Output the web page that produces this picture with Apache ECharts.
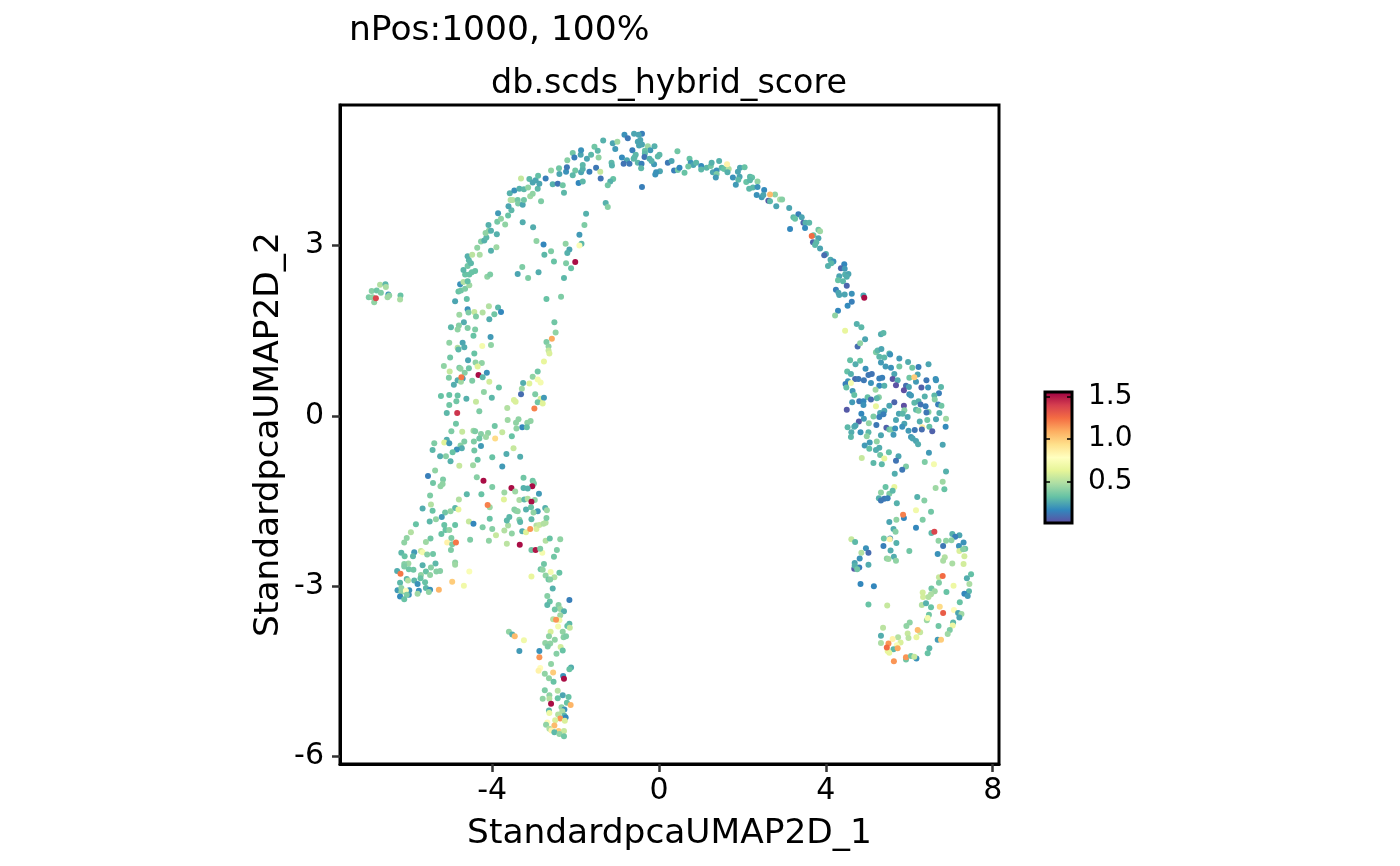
<!DOCTYPE html>
<html><head><meta charset="utf-8">
<script src="https://cdn.jsdelivr.net/npm/echarts@6/dist/echarts.min.js"></script>
<style>html,body{margin:0;background:#fff}#c{width:1400px;height:866px}</style></head>
<body><div id="c"></div>
<script>
// Each point: [UMAP_1, UMAP_2, score]
const patch=[[-6.96,2.09,.38],[-6.89,2.20,.4],[-6.69,2.31,.5],[-6.56,2.32,.3],[-6.55,2.27,.48],[-6.77,2.21,.35],[-6.67,2.17,.38],[-6.49,2.14,.2],[-6.47,2.12,.42],[-6.51,2.09,.45],[-6.20,2.12,.33],[-6.21,2.05,.48],[-6.83,2.00,.42],[-6.87,2.09,.42],[-6.79,2.07,1.37]];
const upperLeft=[[-4.89,2.02,.25],[-4.61,2.06,.32],[-4.81,2.19,.33],[-4.75,2.21,.35],[-4.65,2.24,.38],[-4.55,2.30,.45],[-4.77,2.32,.2],[-4.69,2.36,.5],[-4.59,2.37,.32],[-4.12,2.45,.42],[-4.05,2.49,.38],[-4.65,2.49,.33],[-4.55,2.49,.33],[-4.41,2.55,.33],[-4.49,2.53,.33],[-4.69,2.57,.3],[-4.59,2.64,.35],[-4.51,2.69,.3],[-4.56,2.74,.3],[-4.59,2.81,.28],[-4.48,2.84,.52],[-4.30,2.84,.48],[-4.03,2.91,.28],[-3.90,2.97,.45],[-4.36,2.96,.42],[-4.27,3.07,.4],[-4.19,3.09,.28],[-4.14,3.14,.3],[-4.16,3.22,.42],[-4.08,3.26,.42],[-4.03,3.26,.28],[-4.09,3.36,.28],[-3.89,3.20,.28],[-3.88,3.42,.36],[-3.79,3.47,.42],[-3.69,3.37,.42],[-3.86,3.57,.22],[-3.62,3.53,.33],[-3.54,3.62,.3],[-3.61,3.69,.25],[-3.56,3.80,.5],[-3.51,3.80,.5],[-3.39,3.80,.35],[-3.38,3.74,.38],[-3.27,3.72,.25],[-3.24,3.80,.35],[-3.09,3.87,.45],[-3.03,3.91,.42],[-2.83,3.78,.38],[-3.58,3.92,.28],[-3.47,3.97,.2],[-3.35,4.00,.28],[-3.24,3.99,.3],[-3.14,4.02,.42],[-2.91,4.00,.3],[-3.31,4.18,.55],[-3.11,4.17,.3],[-3.03,4.11,.25],[-2.96,4.15,.25],[-2.87,4.09,.25],[-2.90,4.23,.32],[-2.59,4.32,.42],[-2.55,4.08,.28],[-2.43,4.09,.12],[-2.31,4.06,.35],[-2.28,3.93,.3],[-2.72,4.18,.15],[-2.39,4.26,.25],[-2.40,4.36,.35],[-2.23,4.30,.2],[-2.21,4.38,.13],[-2.01,4.32,.35],[-2.07,4.24,.3],[-1.87,4.29,.25],[-1.83,4.35,.28],[-1.83,4.42,.3],[-1.67,4.30,.15],[-1.51,4.37,.13],[-1.41,4.30,.55],[-1.40,4.18,.12],[-1.93,4.10,.17],[-1.83,4.13,.3],[-2.20,4.50,.4],[-2.07,4.63,.35],[-2.03,4.55,.15],[-1.88,4.60,.25],[-1.87,4.68,.2],[-1.73,4.53,.25],[-1.63,4.60,.3],[-1.55,4.74,.35],[-1.47,4.67,.3],[-1.45,4.55,.42],[-1.34,4.85,.28],[-1.11,4.80,.25],[-1.00,4.83,.45],[-1.05,4.70,.22],[-1.14,4.46,.3],[-1.13,4.41,.28],[-1.10,4.17,.33],[-1.17,4.13,.28],[-1.23,4.06,.35],[-1.28,3.75,.28],[-1.23,3.68,.4],[-1.75,3.56,.28],[-1.79,3.36,.38],[-1.91,3.19,.22],[-1.86,3.03,.3],[-1.91,3.00,.75],[-2.24,3.03,.42],[-2.15,2.93,.25],[-2.20,2.87,.28],[-2.59,2.90,.38],[-2.77,3.02,.17],[-2.94,3.08,.42],[-2.75,2.84,.3],[-2.52,2.72,.33],[-2.23,2.69,.38],[-2.11,2.60,.33],[-2.01,2.71,1.52],[-2.28,2.43,.3],[-2.89,2.53,.27],[-3.14,2.43,.38],[-3.28,2.62,.38],[-3.39,2.50,.25],[-3.02,3.32,.27],[-3.27,3.41,.27],[-2.35,2.10,.38],[-2.70,2.06,.33],[-2.51,1.65,.35],[-2.48,1.47,.42],[-2.57,1.36,1.1]];
const crown=[[-.83,4.95,.2],[-.75,4.89,.13],[-.60,4.97,.25],[-.41,4.97,.15],[-.49,4.95,.25],[-.51,4.83,.25],[-.45,4.86,.25],[-.48,4.76,.25],[-.41,4.78,.25],[-.27,4.75,.45],[-.11,4.75,.28],[-.21,4.68,.22],[-.34,4.67,.33],[-.64,4.68,.15],[-.34,4.62,.3],[-.56,4.60,.3],[-.59,4.55,.3],[-.89,4.55,.18],[-.77,4.50,.25],[-.61,4.53,.3],[-.35,4.56,.12],[-.23,4.53,.28],[.01,4.60,.3],[-.03,4.57,.3],[-.51,4.46,.3],[-.42,4.44,.15],[-.85,4.44,.12],[-.71,4.44,.13],[-.43,4.36,.3],[-.12,4.43,.22],[-.18,4.49,.28],[.21,4.46,.13],[.02,4.31,.25],[-.07,4.29,.2],[-.09,4.25,.2],[-.41,4.03,.15]];
const rightArc=[[.44,4.66,.35],[.30,4.49,.25],[.36,4.32,.15],[.45,4.33,.35],[.49,4.37,.17],[.61,4.28,.33],[.73,4.53,.33],[.76,4.46,.2],[.82,4.42,.25],[.89,4.46,.3],[.70,4.39,.35],[1.01,4.40,.18],[1.01,4.34,.3],[1.14,4.37,.3],[1.24,4.40,.35],[1.26,4.46,.28],[1.44,4.49,.28],[1.29,4.29,.25],[1.38,4.32,.2],[1.38,4.26,.38],[1.36,4.20,.22],[1.50,4.37,.3],[1.56,4.35,.33],[1.67,4.35,.5],[1.64,4.29,.28],[1.63,4.43,.85],[1.77,4.20,.2],[1.89,4.30,.25],[1.94,4.37,.25],[2.05,4.38,.33],[1.93,4.21,.25],[1.90,4.16,.3],[1.84,4.07,.22],[2.09,4.12,.33],[2.18,4.21,.3],[2.23,4.20,.32],[2.18,4.15,.3],[2.36,4.13,.42],[2.16,4.00,.3],[2.25,4.02,.3],[2.36,4.03,.2],[2.52,3.98,.18],[2.34,3.89,.2],[2.46,3.85,.22],[2.50,3.89,.25],[2.78,3.90,.42],[2.66,3.90,1.05],[2.62,3.79,.05],[2.66,3.78,.3],[2.90,3.81,.48],[2.95,3.81,.4],[2.81,3.69,.25],[3.12,3.66,.25],[3.34,3.55,.15],[3.22,3.50,.3],[3.26,3.47,.33],[3.42,3.50,.25],[3.46,3.40,.08],[3.51,3.40,.28],[3.60,3.40,.3],[3.50,3.31,.18],[3.14,3.29,.17],[3.82,3.28,.35],[3.86,3.25,.45],[3.70,3.18,.33],[3.66,3.17,1.25],[3.82,3.13,.25],[3.69,3.06,.08],[3.77,3.06,.3],[3.74,3.01,.3],[3.86,2.95,.25],[4.00,2.85,.27],[3.96,2.83,.1],[4.11,2.75,.27],[4.18,2.72,.2],[4.13,2.69,.3],[4.05,2.64,.28],[4.44,2.67,.17],[4.36,2.60,.08],[4.45,2.59,.22],[4.46,2.49,.28],[4.54,2.50,.25],[4.50,2.45,.27],[4.32,2.46,.25],[4.29,2.39,.33],[4.41,2.37,.3],[4.50,2.29,.08],[4.24,2.22,.15],[4.30,2.17,.25],[4.32,2.13,.25],[4.45,2.14,.25],[4.62,2.15,.2],[4.90,2.12,.25],[4.92,2.08,1.52],[4.62,2.01,.15],[4.52,1.94,.18],[4.29,1.85,.17],[4.22,1.77,.42],[4.74,1.62,.28],[4.85,1.56,.3],[4.46,1.50,.65],[4.94,1.35,.25],[5.32,1.44,.27],[5.38,1.46,.3]];
const rightBlob=[[4.76,1.22,.1],[4.82,1.28,.42],[5.20,1.12,.38],[5.24,1.15,.3],[5.33,1.18,.25],[5.28,1.04,.3],[5.40,1.03,.3],[5.52,1.10,.3],[5.54,1.08,.2],[5.32,.94,.22],[5.76,1.01,.22],[5.97,.95,.27],[4.58,.98,.32],[4.71,.91,.27],[4.82,.97,.33],[4.95,.83,.2],[5.43,.87,.22],[5.56,.85,.2],[5.76,.87,.35],[6.07,.85,.35],[6.22,.86,.15],[6.46,.91,.25],[4.51,.78,.32],[4.60,.74,.28],[5.02,.72,.13],[5.10,.74,.12],[5.64,.74,.25],[6.20,.73,.25],[4.70,.65,.1],[4.78,.65,.13],[4.91,.63,.13],[5.28,.66,.15],[5.35,.67,.15],[5.60,.65,.03],[5.72,.63,.27],[6.00,.67,.35],[6.16,.60,.22],[6.12,.68,1.0],[6.41,.63,.13],[6.63,.65,.2],[6.64,.63,.2],[4.53,.61,.2],[4.47,.56,.15],[4.60,.58,.72],[5.08,.58,.2],[5.68,.54,.03],[5.28,.53,.17],[5.40,.53,.28],[5.92,.53,.1],[5.99,.51,.25],[5.87,.45,.02],[6.29,.50,.07],[6.45,.50,.2],[6.76,.51,.3],[4.49,.50,.32],[4.64,.44,.22],[4.68,.37,.32],[5.19,.46,.45],[6.00,.38,.2],[6.04,.36,.22],[6.71,.40,.15],[5.00,.33,.32],[5.27,.33,.4],[5.22,.31,.3],[5.08,.29,.1],[4.63,.24,.22],[4.80,.26,.13],[4.90,.26,.17],[4.90,.19,.2],[6.37,.34,.28],[6.60,.36,.3],[6.61,.29,.4],[5.64,.24,.08],[6.12,.23,.3],[6.22,.26,.28],[6.27,.20,.12],[6.39,.17,.15],[6.69,.20,.15],[6.77,.18,.35],[5.20,.17,.65],[5.52,.18,.25],[5.87,.18,.02],[4.50,.11,.05],[5.40,.09,.25],[5.30,.05,.25],[5.38,.03,.15],[5.88,.10,.4],[5.75,.04,.25],[5.84,.04,.3],[6.16,.11,.3],[6.22,.09,.38],[6.46,.07,.4],[6.41,.06,.13],[6.72,.05,.28],[4.85,.04,.17],[5.14,-.01,.38],[5.28,-.02,.15],[5.96,-.02,.25],[4.91,-.05,.22],[6.88,-.05,.45],[6.64,-.06,.25],[6.43,-.07,.35],[5.68,-.07,.25],[4.79,-.10,.05],[5.03,-.13,.42],[5.21,-.16,.13],[6.25,-.10,.27],[5.88,-.14,.25],[5.83,-.19,.2],[6.87,-.19,.18],[6.48,-.19,.32],[6.31,-.20,.88],[4.52,-.20,.3],[4.68,-.19,.27],[4.71,-.17,.25],[5.45,-.21,.07],[5.52,-.24,.33],[5.57,-.24,.38],[5.66,-.22,.2],[6.13,-.25,.13],[5.98,-.26,.22],[6.30,-.24,.1],[6.55,-.27,.07],[4.61,-.29,.27],[4.83,-.29,.2],[5.02,-.29,.3],[5.62,-.33,.22],[5.32,-.34,.25],[4.60,-.37,.3],[4.98,-.36,.42],[6.04,-.37,.22],[6.08,-.40,.25],[6.16,-.44,.25],[6.21,-.50,.27],[5.22,-.45,.42],[5.05,-.47,.22],[4.93,-.52,.22],[5.04,-.58,.32],[5.28,-.56,.27],[5.20,-.60,.27],[6.80,-.51,.25],[5.51,-.64,.32],[6.47,-.65,.22],[5.30,-.69,.35],[4.86,-.74,.55],[5.40,-.75,.65],[5.74,-.71,.25],[5.68,-.79,.12],[5.14,-.83,.3],[5.34,-.85,.3],[6.37,-.81,.38],[6.59,-.85,.72],[5.92,-.89,.38],[5.83,-.95,.13],[6.88,-.98,.28],[5.65,-1.02,.27],[6.80,-1.16,.45],[6.63,-1.27,.45],[6.84,-1.29,.33],[5.43,-1.25,.33],[5.64,-1.25,.65],[5.32,-1.35,.42],[5.52,-1.37,.38],[5.60,-1.32,.3],[5.27,-1.45,.28],[5.40,-1.46,.13],[5.48,-1.45,.15],[6.19,-1.43,.28],[6.36,-1.49,.4]];
const rightLoop=[[5.70,-1.54,.28],[5.32,-1.49,.13],[6.16,-1.66,.7],[6.52,-1.69,.35],[5.87,-1.80,.17],[5.85,-1.74,1.2],[5.69,-1.83,.42],[5.52,-1.87,.25],[6.32,-1.83,.38],[6.16,-1.97,.17],[5.62,-1.99,.27],[5.67,-2.04,.4],[6.53,-2.06,.3],[6.60,-2.04,1.37],[7.03,-2.08,.28],[7.20,-2.10,.25],[7.10,-2.13,.15],[4.61,-2.17,.55],[4.70,-2.22,.3],[5.39,-2.16,.35],[5.54,-2.16,.2],[5.53,-2.17,.85],[5.69,-2.24,.28],[6.70,-2.20,.42],[6.88,-2.20,.42],[7.01,-2.19,.42],[6.81,-2.29,.13],[7.30,-2.23,.2],[7.19,-2.29,.2],[5.38,-2.29,.15],[7.20,-2.38,.6],[7.34,-2.34,.35],[7.29,-2.35,.4],[4.96,-2.33,.2],[5.02,-2.41,.1],[4.85,-2.41,.5],[5.55,-2.37,.27],[6.00,-2.38,.35],[6.68,-2.43,.2],[5.63,-2.48,.27],[5.46,-2.51,.42],[5.50,-2.52,.45],[5.68,-2.55,.42],[6.85,-2.49,.5],[7.32,-2.47,.58],[6.81,-2.55,.48],[7.03,-2.60,.48],[7.30,-2.61,.58],[4.81,-2.51,.2],[4.69,-2.59,.25],[5.02,-2.62,.27],[4.68,-2.69,.05],[4.80,-2.67,.15],[4.69,-2.64,.28],[4.75,-2.70,.35],[7.48,-2.79,.32],[7.38,-2.86,.27],[6.71,-2.84,.55],[6.80,-2.82,1.25],[6.71,-2.94,.38],[7.44,-2.96,.48],[7.06,-2.99,.68],[4.83,-2.96,.17],[5.15,-3.00,.17],[6.53,-3.04,.35],[6.32,-3.11,.58],[6.61,-3.09,.45],[6.52,-3.14,.48],[6.89,-3.10,.33],[7.43,-3.09,.3],[7.32,-3.13,.17],[7.40,-3.17,.22],[6.33,-3.19,.58],[6.46,-3.19,.5],[7.21,-3.28,.33],[6.30,-3.33,.5],[6.40,-3.30,.28],[5.02,-3.32,.33],[5.47,-3.34,.55],[6.73,-3.36,.95],[6.52,-3.37,.33],[7.07,-3.42,.8],[6.81,-3.47,1.3],[7.17,-3.47,.25],[7.25,-3.49,.45],[7.20,-3.55,.25],[6.47,-3.50,.35],[6.42,-3.60,.45],[6.44,-3.56,.72],[7.05,-3.64,.3],[7.04,-3.69,.68],[6.01,-3.64,.42],[5.93,-3.70,.42],[6.70,-3.70,.35],[6.97,-3.77,.38],[5.37,-3.73,.52],[6.26,-3.81,.55],[6.20,-3.77,1.05],[5.96,-3.83,.55],[6.92,-3.84,.45],[5.32,-3.87,.27],[5.73,-3.90,.5],[5.98,-3.91,.52],[6.17,-3.90,.65],[5.60,-3.93,.85],[6.68,-3.94,.22],[6.76,-3.94,1.0],[5.32,-4.00,.48],[5.79,-3.99,.6],[5.70,-4.04,.75],[5.62,-4.11,.3],[5.48,-4.14,.65],[5.52,-4.17,.65],[5.50,-4.01,1.15],[5.46,-4.08,1.25],[5.72,-4.09,1.1],[6.48,-4.09,.3],[6.44,-4.18,.33],[5.63,-4.32,1.15],[5.92,-4.29,.35],[5.92,-4.25,1.15],[6.04,-4.23,.35],[6.17,-4.27,.2],[6.12,-4.24,.55]];
const leftBand=[[-4.59,1.88,.2],[-4.43,1.83,.55],[-4.57,1.82,.38],[-4.79,1.78,.45],[-4.23,1.82,.5],[-4.08,1.93,.5],[-3.86,1.91,.3],[-3.79,1.83,.17],[-3.95,1.79,.35],[-4.39,1.75,.38],[-4.07,1.70,.27],[-4.68,1.65,.27],[-4.99,1.56,.3],[-4.80,1.59,.4],[-4.83,1.52,.42],[-4.59,1.55,.38],[-4.41,1.52,.38],[-4.45,1.41,.33],[-4.04,1.39,.22],[-5.03,1.29,.42],[-4.71,1.29,.25],[-4.83,1.20,.5],[-4.81,1.17,.3],[-4.67,1.21,.27],[-4.24,1.23,.72],[-4.03,1.25,.42],[-2.70,1.30,.38],[-2.65,1.22,.42],[-2.65,1.15,.55],[-2.63,1.10,.6],[-4.43,1.10,.33],[-5.01,1.03,.35],[-4.58,.98,.25],[-2.76,.96,.65],[-4.40,.94,.42],[-4.25,.93,.42],[-5.16,.88,.42],[-4.79,.85,.38],[-4.76,.83,.42],[-4.56,.84,.35],[-4.35,.87,.62],[-5.02,.78,.55],[-4.66,.76,.4],[-4.13,.76,.2],[-4.33,.72,1.52],[-2.91,.78,.35],[-3.03,.69,.42],[-2.91,.64,.72],[-2.84,.59,.72],[-5.04,.67,.38],[-4.83,.63,.27],[-4.71,.66,.22],[-4.75,.60,.45],[-4.74,.68,1.22],[-4.23,.68,.3],[-4.48,.62,.38],[-4.07,.60,.58],[-4.92,.55,.27],[-3.11,.57,.62],[-3.26,.58,.27],[-3.84,.50,.33],[-3.29,.48,.45],[-4.20,.42,.42],[-5.23,.35,.33],[-5.03,.37,.33],[-4.83,.36,.33],[-3.31,.38,.1],[-2.97,.38,.38],[-4.01,.32,.3],[-4.62,.30,.28],[-4.86,.26,.35],[-4.39,.25,.55],[-3.48,.28,.6],[-3.44,.25,.6],[-2.84,.30,.6],[-2.76,.32,.22],[-2.91,.24,.35],[-2.79,.22,.62],[-5.03,.19,.35],[-2.99,.13,1.2],[-3.64,.14,.5],[-5.09,.05,.3],[-4.84,.05,1.42],[-4.31,.08,.38],[-3.63,-.07,.45],[-3.37,-.06,.42],[-3.08,-.09,.42],[-3.16,-.12,.42],[-3.43,-.12,.42],[-4.87,-.14,.35],[-3.94,-.18,.35],[-3.28,-.20,.17],[-3.17,-.20,.33],[-3.42,-.22,.42],[-4.98,-.27,.38],[-4.72,-.28,.55],[-4.45,-.26,.45],[-4.41,-.27,.38],[-4.10,-.30,.42],[-3.76,-.29,.55],[-4.27,-.32,.4],[-4.15,-.37,.45],[-3.53,-.36,.33],[-3.93,-.40,.95],[-4.31,-.40,.35],[-5.09,-.42,.27],[-4.67,-.45,.38],[-4.44,-.45,.38],[-5.39,-.48,.38],[-5.15,-.47,.62],[-5.03,-.48,.22],[-4.76,-.52,.4],[-4.27,-.53,.22],[-5.43,-.60,.3],[-4.73,-.57,.27],[-4.85,-.59,.2],[-3.49,-.57,.55],[-4.95,-.64,.33],[-4.43,-.61,.35],[-5.25,-.71,.27],[-5.11,-.71,.4],[-3.66,-.67,.27],[-4.00,-.73,.33],[-3.33,-.72,.27],[-5.00,-.80,.28],[-4.35,-.77,.33],[-4.79,-.88,.55],[-4.46,-.87,.45],[-3.76,-.89,.22],[-5.37,-.96,.42],[-5.54,-1.06,.15],[-5.18,-1.12,.38],[-5.42,-1.18,.35],[-5.19,-1.20,.42],[-5.24,-1.24,.42],[-4.37,-1.08,.4],[-4.21,-1.14,1.52],[-3.25,-1.09,.35],[-3.03,-1.14,.35],[-3.00,-1.19,.38],[-3.04,-1.24,1.52],[-4.00,-1.25,.38],[-3.54,-1.27,1.52],[-3.25,-1.27,.28],[-3.15,-1.28,.28],[-5.49,-1.40,.38],[-4.61,-1.38,.3],[-4.26,-1.38,.33],[-3.71,-1.35,.45],[-3.45,-1.33,.45],[-2.88,-1.37,.22],[-5.47,-1.56,.5],[-4.80,-1.47,.5],[-3.72,-1.47,.62],[-3.35,-1.48,.48],[-3.23,-1.47,.3],[-3.15,-1.46,.5],[-2.98,-1.48,.42],[-3.06,-1.51,1.52],[-4.06,-1.61,.45],[-4.11,-1.57,1.2],[-5.67,-1.63,.27],[-4.89,-1.62,.3],[-4.81,-1.65,.65],[-5.43,-1.67,.33],[-5.13,-1.70,.35],[-5.00,-1.68,.42],[-3.47,-1.65,.4],[-3.43,-1.67,.4],[-3.19,-1.65,.28],[-3.07,-1.61,.33],[-2.73,-1.62,.28],[-2.91,-1.68,.22],[-2.69,-1.66,.45],[-3.01,-1.70,.42],[-3.39,-1.68,.42]];
const lowerLeft=[[-5.83,-1.91,.33],[-5.50,-1.86,.3],[-5.35,-1.82,.42],[-5.21,-1.78,.22],[-5.15,-1.92,.33],[-4.89,-1.92,.33],[-5.12,-2.01,.33],[-5.03,-2.01,.42],[-5.22,-2.08,.33],[-5.95,-2.05,.5],[-5.48,-2.16,.35],[-5.59,-2.22,.45],[-6.05,-2.15,.42],[-6.11,-2.23,.42],[-5.08,-2.23,.85],[-4.98,-2.15,.38],[-4.96,-2.26,.38],[-4.87,-2.23,1.22],[-4.99,-2.36,.38],[-4.53,-2.18,.38],[-4.56,-1.86,.55],[-4.45,-1.90,.17],[-4.23,-1.96,.38],[-4.06,-1.81,.33],[-4.00,-1.99,.4],[-3.91,-2.10,.55],[-4.08,-2.20,.42],[-3.71,-2.02,.5],[-3.62,-1.93,.48],[-3.53,-2.07,.42],[-3.65,-2.25,.52],[-3.65,-1.84,.3],[-3.59,-1.78,.3],[-3.35,-1.83,.4],[-3.33,-1.87,.3],[-3.06,-1.82,.3],[-3.28,-2.03,.27],[-3.19,-2.05,.62],[-3.09,-1.99,1.15],[-2.94,-1.93,.5],[-2.94,-1.99,.6],[-2.87,-1.92,.55],[-2.77,-1.90,.5],[-2.72,-1.88,.5],[-2.70,-1.80,.38],[-3.34,-2.27,1.52],[-3.06,-2.36,.35],[-2.96,-2.36,1.5],[-2.80,-2.41,.72],[-2.85,-2.34,.38],[-2.72,-2.20,.5],[-2.62,-2.16,.33],[-2.37,-2.17,.42],[-2.45,-2.36,.38],[-2.52,-2.48,.35],[-6.18,-2.41,.3],[-5.87,-2.40,.22],[-5.71,-2.38,.55],[-5.67,-2.40,.72],[-5.90,-2.47,.3],[-6.10,-2.47,.33],[-5.56,-2.44,.4],[-5.42,-2.43,.35],[-4.89,-2.58,.42],[-4.89,-2.62,.45],[-5.36,-2.60,.3],[-5.67,-2.63,.28],[-6.01,-2.60,.45],[-6.11,-2.61,.4],[-6.11,-2.65,.38],[-6.28,-2.73,.27],[-6.00,-2.70,.35],[-5.89,-2.71,.35],[-5.59,-2.74,.33],[-5.47,-2.67,.4],[-5.34,-2.74,.4],[-5.25,-2.73,.4],[-6.20,-2.78,1.22],[-5.71,-2.80,.42],[-5.49,-2.80,.42],[-5.72,-2.86,.33],[-6.05,-2.87,.3],[-6.02,-2.90,.5],[-5.87,-2.90,.3],[-6.21,-2.94,.3],[-5.61,-2.93,.33],[-5.79,-2.96,.2],[-4.55,-2.74,.75],[-4.96,-2.92,1.0],[-4.68,-2.99,.7],[-5.28,-3.06,1.07],[-5.59,-3.03,.3],[-5.49,-3.06,.2],[-5.52,-3.10,.42],[-5.76,-3.08,.2],[-5.79,-3.13,.45],[-6.27,-3.07,.22],[-6.18,-3.03,.42],[-5.99,-3.07,.2],[-6.18,-3.10,.42],[-6.07,-3.08,.8],[-6.00,-3.15,.2],[-6.21,-3.18,.18],[-6.05,-3.15,.38],[-6.11,-3.23,.33]];
const lowerColumn=[[-2.76,-2.61,.35],[-2.84,-2.70,.35],[-2.79,-2.71,.42],[-2.60,-2.75,.72],[-2.39,-2.76,.33],[-3.06,-2.83,.65],[-2.72,-2.81,.42],[-2.51,-2.84,.5],[-2.65,-2.88,.35],[-2.61,-2.88,.4],[-2.55,-3.04,.28],[-2.68,-3.17,.4],[-2.62,-3.27,.33],[-2.68,-3.33,.3],[-2.15,-3.24,.15],[-2.41,-3.33,.4],[-2.37,-3.40,.45],[-2.50,-3.41,.35],[-2.28,-3.44,.28],[-2.37,-3.51,.45],[-2.54,-3.58,.5],[-2.39,-3.60,.7],[-2.47,-3.59,1.15],[-2.15,-3.66,.3],[-2.20,-3.70,.33],[-2.42,-3.71,.72],[-2.14,-3.73,.55],[-2.60,-3.80,.6],[-2.31,-3.80,.42],[-3.60,-3.80,.42],[-3.52,-3.85,.28],[-3.46,-3.88,1.05],[-3.24,-3.95,.7],[-2.64,-3.88,.42],[-2.50,-3.94,.42],[-2.29,-3.90,.4],[-2.23,-3.88,.38],[-2.73,-4.00,.42],[-2.61,-4.01,.42],[-2.67,-4.06,.38],[-2.36,-4.07,.58],[-2.31,-4.13,.33],[-2.46,-4.19,.4],[-2.87,-4.14,.2],[-3.35,-4.14,.22],[-2.87,-4.25,1.15],[-2.59,-4.37,.42],[-2.85,-4.44,.8],[-2.89,-4.49,.85],[-2.11,-4.43,.27],[-2.15,-4.46,.33],[-2.74,-4.54,.42],[-2.54,-4.52,1.0],[-2.30,-4.58,.2],[-2.28,-4.63,1.52],[-2.64,-4.62,.42],[-2.53,-4.68,.33],[-2.74,-4.83,.38],[-2.43,-4.84,.5],[-2.63,-4.92,.42],[-2.31,-4.92,.25],[-2.17,-4.95,.33],[-2.79,-4.98,.42],[-2.63,-4.98,.5],[-2.43,-4.97,.33],[-2.21,-5.05,.33],[-2.59,-5.07,1.52],[-2.12,-5.09,1.07],[-2.34,-5.13,.42],[-2.27,-5.17,.2],[-2.64,-5.19,.3],[-2.63,-5.23,.68],[-2.32,-5.20,.48],[-2.42,-5.26,.5],[-2.27,-5.28,.3],[-2.24,-5.31,.17],[-2.37,-5.33,1.15],[-2.49,-5.36,.6],[-2.26,-5.37,.6],[-2.68,-5.40,.8],[-2.71,-5.44,.42],[-2.51,-5.45,1.05],[-2.63,-5.51,.5],[-2.58,-5.54,.85],[-2.41,-5.55,1.0],[-2.28,-5.55,.55],[-2.51,-5.57,.3],[-2.39,-5.60,.42],[-2.28,-5.64,.35]];

const points=[...patch,...upperLeft,...crown,...rightArc,...rightBlob,...rightLoop,...leftBand,...lowerLeft,...lowerColumn];
const spectral=['#5E4FA2','#3288BD','#66C2A5','#ABDDA4','#E6F598','#FFFFBF','#FEE08B','#FDAE61','#F46D43','#D53E4F','#9E0142'];
const xTicks=[-4,0,4,8];
const yTicks=[-6,-3,0,3];
const legendTicks=[0.5,1,1.5];
const scoreMin=0.02, scoreMax=1.55;
const xTitle='StandardpcaUMAP2D_1', yTitle='StandardpcaUMAP2D_2';
const FF='"DejaVu Sans"';

const chart=echarts.init(document.getElementById('c'),null,{renderer:'canvas'});
chart.setOption({
  animation:false,
  backgroundColor:'#fff',
  title:[
    {text:'nPos:1000, 100%',left:349,top:14,padding:0,textStyle:{fontFamily:FF,fontSize:34.5,fontWeight:'normal',color:'#000'}},
    {text:'db.scds_hybrid_score',left:669,top:68,padding:0,textAlign:'center',textStyle:{fontFamily:FF,fontSize:33.3,fontWeight:'normal',color:'#000'}}
  ],
  grid:[
    {left:340,top:105,width:659,height:659,show:true,borderColor:'#000',borderWidth:3,backgroundColor:'#fff'},
    {left:1045,top:392,width:27,height:131,show:false}
  ],
  xAxis:[
    {gridIndex:0,type:'value',min:-7.65,max:8.15,splitLine:{show:false},
     axisLine:{show:true,onZero:false,lineStyle:{color:'#000',width:3}},
     axisTick:{show:true,length:8,customValues:xTicks,lineStyle:{color:'#333',width:2.5}},
     axisLabel:{customValues:xTicks,margin:12,fontFamily:FF,fontSize:30,color:'#000',formatter:v=>String(v),hideOverlap:false},
     name:xTitle,nameLocation:'middle',nameGap:53,nameTextStyle:{fontFamily:FF,fontSize:34.4,color:'#000'}},
    {gridIndex:1,type:'category',data:[''],show:false}
  ],
  yAxis:[
    {gridIndex:0,type:'value',min:-6.13,max:5.475,splitLine:{show:false},
     axisLine:{show:true,onZero:false,lineStyle:{color:'#000',width:3}},
     axisTick:{show:true,length:8,customValues:yTicks,lineStyle:{color:'#333',width:2.5}},
     axisLabel:{customValues:yTicks,margin:16,padding:[7,0,0,0],fontFamily:FF,fontSize:30,color:'#000',formatter:v=>String(v),hideOverlap:false},
     name:yTitle,nameLocation:'middle',nameGap:54,nameTextStyle:{fontFamily:FF,fontSize:34.4,color:'#000'}},
    {gridIndex:1,type:'value',position:'right',min:scoreMin,max:scoreMax,z:5,splitLine:{show:false},axisLine:{show:false},
     axisTick:{show:true,inside:true,length:5,customValues:legendTicks,lineStyle:{color:'#000',width:1.5}},
     axisLabel:{customValues:legendTicks,margin:16,padding:[8,0,0,0],fontFamily:FF,fontSize:28,color:'#000',formatter:v=>v.toFixed(1),hideOverlap:false}},
    {gridIndex:1,type:'value',position:'left',min:scoreMin,max:scoreMax,z:5,splitLine:{show:false},axisLine:{show:false},
     axisTick:{show:true,inside:true,length:5,customValues:legendTicks,lineStyle:{color:'#000',width:1.5}},
     axisLabel:{show:false}}
  ],
  visualMap:{show:false,seriesIndex:0,dimension:2,min:scoreMin,max:scoreMax,inRange:{color:spectral}},
  series:[
    {type:'scatter',xAxisIndex:0,yAxisIndex:0,symbolSize:6,data:points,itemStyle:{opacity:1},large:false},
    {type:'bar',xAxisIndex:1,yAxisIndex:1,barWidth:'100%',data:[scoreMax],silent:true,
     itemStyle:{color:new echarts.graphic.LinearGradient(0,1,0,0,spectral.map((c,i)=>({offset:i/(spectral.length-1),color:c})))}}
  ],
  graphic:[{type:'rect',z:100,shape:{x:1045,y:392,width:27,height:131},style:{fill:'none',stroke:'#000',lineWidth:3}}]
});
</script></body></html>
